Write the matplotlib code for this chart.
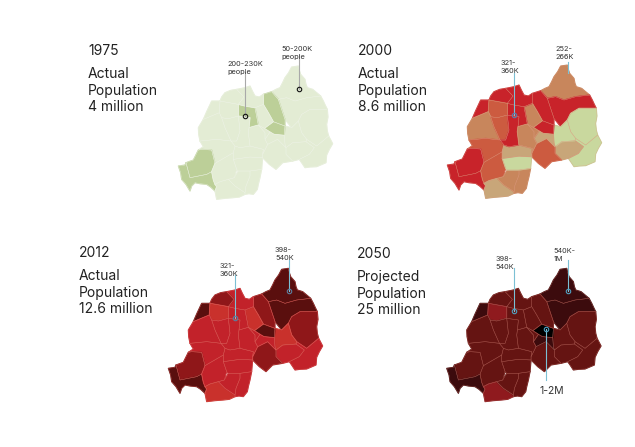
import matplotlib
matplotlib.use("Agg")
import matplotlib.pyplot as plt

plt.rcParams["font.family"] = ["Inter", "DejaVu Sans"]

W, H = 635, 447

# district outlines, shared by all four maps
DISTRICT_SHAPES = {
    "Nyagatare": [(305,162),(318,155),(330,150),(338,135),(345,120),(356,105),(365,88),(385,85),(388,98),(392,110),(405,125),(408,140),(412,150),(428,155),(440,165),(452,175),(410,180),(375,190),(350,180),(325,185)],
    "Gatsibo": [(325,185),(350,180),(375,190),(410,180),(452,175),(460,190),(466,203),(472,215),(420,215),(395,230),(385,250),(365,270),(345,245),(335,215)],
    "Kayonza": [(395,230),(420,215),(472,215),(474,238),(470,260),(472,280),(476,295),(440,325),(410,305),(395,285),(385,250)],
    "Kirehe": [(410,305),(440,325),(476,295),(488,318),(478,335),(470,352),(468,375),(440,387),(420,388),(405,390),(395,375),(388,365),(418,350),(433,330),(408,312)],
    "Ngoma": [(348,330),(368,315),(408,312),(433,330),(418,350),(388,365),(368,370),(348,350)],
    "Rwamagana": [(345,265),(365,270),(385,250),(395,285),(410,305),(408,312),(368,315),(348,330),(345,320),(343,293)],
    "Bugesera": [(278,350),(293,320),(323,305),(348,330),(348,350),(368,370),(338,375),(318,395),(298,380),(278,360)],
    "Gasabo": [(283,272),(310,252),(345,265),(343,293),(312,290),(300,283)],
    "Kicukiro": [(300,283),(312,290),(343,293),(345,320),(348,330),(323,305),(293,320),(285,305)],
    "Nyarugenge": [(265,262),(283,272),(300,283),(285,305),(285,285)],
    "Gicumbi": [(280,170),(305,162),(325,185),(335,215),(345,245),(345,265),(310,252),(295,225),(280,200)],
    "Rulindo": [(255,210),(280,200),(295,225),(310,252),(283,272),(265,262)],
    "Gakenke": [(205,200),(225,205),(255,210),(265,262),(237,270),(240,240),(205,235)],
    "Musanze": [(200,155),(225,150),(240,145),(247,160),(255,175),(268,178),(280,170),(280,200),(255,210),(225,205),(205,200),(222,178)],
    "Burera": [(165,165),(182,158),(200,155),(222,178),(205,200),(150,190),(155,178)],
    "Rubavu": [(100,245),(110,222),(118,205),(125,190),(150,190),(148,225)],
    "Nyabihu": [(150,190),(205,200),(205,235),(175,243),(155,240),(148,225)],
    "Rutsiro": [(100,245),(148,225),(155,240),(165,270),(183,310),(140,305),(90,310),(86,290),(85,270)],
    "Ngororero": [(155,240),(175,243),(205,235),(210,280),(200,310),(183,310),(165,270)],
    "Karongi": [(90,310),(140,305),(183,310),(195,325),(190,345),(135,377),(125,337),(95,335),(85,337),(100,327)],
    "Nyamasheke": [(85,337),(95,335),(125,337),(135,377),(125,402),(110,410),(60,420),(48,375),(70,367)],
    "Rusizi": [(25,385),(45,382),(48,375),(60,420),(110,410),(125,402),(130,427),(135,440),(140,447),(135,460),(122,448),(110,440),(90,438),(75,435),(65,445),(60,460),(48,440),(35,425),(32,405)],
    "Nyamagabe": [(135,377),(190,345),(190,365),(200,395),(193,420),(175,425),(150,432),(135,440),(130,427),(125,402)],
    "Nyaruguru": [(135,440),(150,432),(175,425),(195,445),(225,465),(225,470),(208,478),(190,480),(165,482),(140,485),(135,460),(140,447)],
    "Huye": [(193,420),(205,400),(240,400),(240,415),(228,445),(225,465),(195,445),(175,425)],
    "Gisagara": [(240,415),(240,400),(275,395),(270,420),(265,440),(262,455),(250,470),(237,468),(225,470),(225,465),(228,445)],
    "Nyanza": [(190,365),(240,358),(278,360),(275,395),(240,400),(205,400),(200,395)],
    "Ruhango": [(195,325),(210,330),(240,325),(280,335),(278,350),(278,360),(240,358),(190,365),(190,345)],
    "Muhanga": [(205,235),(240,240),(237,270),(235,285),(240,325),(210,330),(195,325),(183,310),(200,310),(210,280)],
    "Kamonyi": [(237,270),(265,262),(285,285),(285,305),(293,320),(278,350),(280,335),(240,325),(235,285)],
}

# population band per district
POP_1975 = {"Rusizi": "200-230K", "Nyamasheke": "200-230K", "Gakenke": "200-230K",
            "Gicumbi": "200-230K", "Gasabo": "200-230K"}
POP_2000 = {"Nyagatare": "252-266K", "Gatsibo": "321-360K", "Kayonza": "low", "Kirehe": "low",
            "Ngoma": "tan", "Rwamagana": "low", "Bugesera": "mid", "Gasabo": "321-360K",
            "Kicukiro": "tan", "Nyarugenge": "252-266K", "Gicumbi": "321-360K", "Rulindo": "252-266K",
            "Gakenke": "321-360K", "Musanze": "321-360K", "Burera": "321-360K", "Rubavu": "321-360K",
            "Nyabihu": "mid", "Rutsiro": "252-266K", "Ngororero": "mid", "Karongi": "mid",
            "Nyamasheke": "321-360K", "Rusizi": "321-360K", "Nyamagabe": "mid", "Nyaruguru": "tan",
            "Huye": "252-266K", "Gisagara": "252-266K", "Nyanza": "low", "Ruhango": "tan",
            "Muhanga": "321-360K", "Kamonyi": "252-266K"}
POP_2012 = {"Nyagatare": "398-540K", "Gatsibo": "398-540K", "Kayonza": "360-398K", "Rwamagana": "300K",
            "Bugesera": "360-398K", "Gasabo": "398-540K", "Gicumbi": "360-398K", "Rulindo": "300K",
            "Burera": "360-398K", "Rubavu": "398-540K", "Nyabihu": "300K", "Nyamasheke": "360-398K",
            "Rusizi": "398-540K", "Nyaruguru": "300K"}
POP_2050 = {"Nyagatare": "540K-1M", "Gatsibo": "540K-1M", "Rubavu": "540K-1M", "Rusizi": "540K-1M",
            "Kicukiro": "540K-1M", "Gasabo": "1-2M", "Nyabihu": "321-360K", "Nyaruguru": "321-360K"}

COLORS_1975 = {"base": "#e3ecd4", "200-230K": "#bccf98"}
COLORS_2000 = {"321-360K": "#c8232a", "mid": "#cc5b40", "252-266K": "#c8865c",
               "tan": "#c8a679", "low": "#c9d89e"}
COLORS_2012 = {"base": "#c2222a", "300K": "#c9312c", "360-398K": "#8f1719", "398-540K": "#5a0f0e"}
COLORS_2050 = {"base": "#651412", "321-360K": "#8f1a1e", "540K-1M": "#3c0b0d", "1-2M": "#000000"}

PANELS = [
    dict(origin=(170, 37.7), pop=POP_1975, colors=COLORS_1975, base="base", edge="#eef3e6", ew=0.35, ealpha=0.7,
         year="1975", body="Actual\nPopulation\n4 million", text_xy=(88, 51), line_color="#a9a9a9", ring="#111111",
         callouts=[("200-230K\npeople", (173, 90), (225, 236), 102, True),
                   ("50-200K\npeople", (333, 45), (388, 153), 52, True)]),
    dict(origin=(439, 36.7), pop=POP_2000, colors=COLORS_2000, base="321-360K", edge="#dd9a80", ew=0.3, ealpha=0.6,
         year="2000", body="Actual\nPopulation\n8.6 million", text_xy=(358, 51), line_color="#7cc0d4", ring="#5b7fb0",
         callouts=[("321-\n360K", (184, 90), (224, 235), 110, True),
                   ("252-\n266K", (348, 48), (388, 110), 75, False)]),
    dict(origin=(160, 240), pop=POP_2012, colors=COLORS_2012, base="base", edge="#d9605a", ew=0.35, ealpha=0.7,
         year="2012", body="Actual\nPopulation\n12.6 million", text_xy=(79, 253), line_color="#7cc0d4", ring="#5b7fa0",
         callouts=[("321-\n360K", (179, 90), (225, 234), 105, True),
                   ("398-\n540K", (345, 43), (388, 152), 60, True)]),
    dict(origin=(438.4, 240), pop=POP_2050, colors=COLORS_2050, base="base", edge="#a8574f", ew=0.35, ealpha=0.7,
         year="2050", body="Projected\nPopulation\n25 million", text_xy=(357, 254), line_color="#7cc0d4", ring="#4f9fc0",
         callouts=[("398-\n540K", (171, 68), (226, 212), 85, True),
                   ("540K-\n1M", (345, 45), (388, 154), 60, True)]),
]

fig = plt.figure(figsize=(W / 100, H / 100), dpi=100, facecolor="white")

for p in PANELS:
    ox, oy = p["origin"]
    ax = fig.add_axes([ox / W, 1 - (oy + 180) / H, 170 / W, 180 / H])
    ax.set_xlim(0, 510)
    ax.set_ylim(540, 0)
    ax.axis("off")
    for name, shape in DISTRICT_SHAPES.items():
        band = p["pop"].get(name, p["base"])
        xs, ys = zip(*shape)
        color = p["colors"][band]
        ax.fill(xs, ys, facecolor=color, edgecolor=color, linewidth=0.8, joinstyle="round", zorder=2)
        ax.fill(xs, ys, facecolor="none", edgecolor=p["edge"], linewidth=p["ew"], alpha=p["ealpha"],
                joinstyle="round", zorder=3)
    for label, tpos, mark, top, ring in p["callouts"]:
        ax.plot([mark[0], mark[0]], [mark[1], top], color=p["line_color"], lw=0.8, zorder=4, clip_on=False)
        if ring:
            ax.plot(mark[0], mark[1], "o", ms=3.2, mfc="none", mec=p["ring"], mew=0.8, zorder=5)
        ax.text(tpos[0], tpos[1], label, fontsize=5.3, color="#333333", va="center", linespacing=1.45,
                ha="left", zorder=6, clip_on=False)
    tx, ty = p["text_xy"]
    fig.text(tx / W, 1 - ty / H, p["year"], fontsize=10, color="#222222", va="center")
    fig.text(tx / W, 1 - (ty + 39.8) / H, p["body"], fontsize=10, color="#222222", va="center", linespacing=1.22)

# Kigali callout on the 2050 map
ax = fig.axes[3]
ax.plot([322, 322], [267, 420], color="#7cc0d4", lw=0.8, zorder=4)
ax.plot(322, 267, "o", ms=3.2, mfc="none", mec="#4f9fc0", mew=0.8, zorder=5)
ax.text(302, 452, "1-2M", fontsize=7.5, color="#333333", va="center", clip_on=False)

fig.savefig("out.png", dpi=100)
